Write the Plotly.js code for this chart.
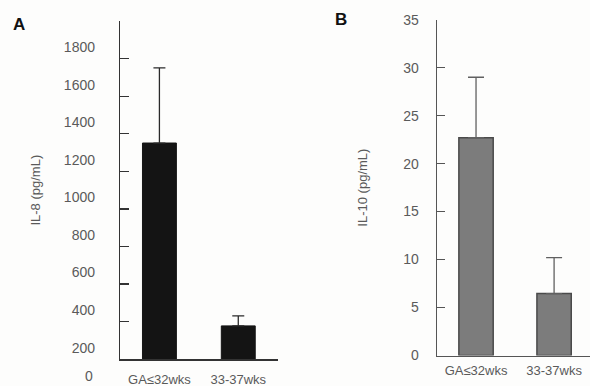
<!DOCTYPE html>
<html>
<head>
<meta charset="utf-8">
<script src="https://cdn.plot.ly/plotly-3.0.1.min.js"></script>
<style>html,body{margin:0;padding:0;background:#fff;}#chart{width:590px;height:386px;}</style>
</head>
<body>
<div id="chart"></div>
<script>
// Data
const categories = ["GA\u226432wks", "33-37wks"];
const il8Mean = [1290, 316];
const il8Err = [400, 53];
const il10Mean = [22.7, 6.45];
const il10Err = [6.3, 3.75];
const il8TickLabels = [200, 400, 600, 800, 1000, 1200, 1400, 1600, 1800];
const il10TickLabels = [0, 5, 10, 15, 20, 25, 30, 35];

const W = 590, H = 386;
const px = v => v / W;
const py = v => 1 - v / H;
const txt = '#5a5a5a';
const fam = 'Liberation Sans, Arial, sans-serif';
const fnt = {family: fam, size: 13, color: txt};
const yfnt = {family: fam, size: 14, color: txt};

const yA = {domain: [py(359.3), py(21)], range: [138, 1940]};

const traces = [
  {
    type: 'bar', x: categories, y: il8Mean, xaxis: 'x', yaxis: 'y',
    width: 0.43,
    marker: {color: '#141414', line: {color: '#141414', width: 1}},
    error_y: {type: 'data', symmetric: false, array: il8Err, arrayminus: [0, 0],
              color: '#2a2a2a', thickness: 1.3, width: 6},
    hoverinfo: 'skip', showlegend: false
  },
  {
    // carrier so that the tick-mark axis of panel A is drawn
    type: 'scatter', x: categories, y: [null, null], xaxis: 'x', yaxis: 'y2',
    mode: 'markers', marker: {opacity: 0}, hoverinfo: 'skip', showlegend: false
  },
  {
    type: 'bar', x: categories, y: il10Mean, xaxis: 'x3', yaxis: 'y3',
    width: 0.44,
    marker: {color: '#7c7c7c', line: {color: '#4a4a4a', width: 1.5}},
    error_y: {type: 'data', symmetric: false, array: il10Err, arrayminus: [0, 0],
              color: '#606060', thickness: 1.3, width: 8},
    hoverinfo: 'skip', showlegend: false
  }
];

const layout = {
  width: W, height: H,
  margin: {l: 0, r: 0, t: 0, b: 0},
  paper_bgcolor: '#fdfdfc', plot_bgcolor: 'rgba(0,0,0,0)',
  font: fnt,
  showlegend: false,
  xaxis: {
    domain: [px(120), px(277.7)], anchor: 'y', type: 'category',
    range: [-0.5, 1.5], showline: true, linecolor: '#333', linewidth: 1.5,
    ticks: '', showgrid: false, zeroline: false, tickfont: fnt,
    ticklabelstandoff: 8, fixedrange: true
  },
  // label axis for panel A (carries data)
  yaxis: {
    domain: yA.domain, anchor: 'x',
    range: yA.range, tickmode: 'array', tickvals: il8TickLabels,
    showline: false, ticks: '', showgrid: false, zeroline: false,
    tickfont: yfnt, ticklabelstandoff: 24,
    title: {text: 'IL-8 (pg/mL)', font: fnt, standoff: 20}
  },
  // tick-mark axis for panel A
  yaxis2: {
    overlaying: 'y', anchor: 'x', side: 'left',
    range: [0, 1800], tick0: 0, dtick: 200,
    ticks: 'inside', ticklen: 9, tickcolor: '#333', tickwidth: 1.3,
    showline: true, linecolor: '#333', linewidth: 1.5,
    showticklabels: false, showgrid: false, zeroline: false
  },
  xaxis3: {
    domain: [px(437), 1], anchor: 'y3', type: 'category',
    range: [-0.5, 1.46], showline: true, linecolor: '#555', linewidth: 1.4,
    ticks: '', showgrid: false, zeroline: false, tickfont: fnt,
    ticklabelstandoff: 2
  },
  yaxis3: {
    domain: [py(355.5), py(19.7)], anchor: 'x3',
    range: [0, 35], tickmode: 'array', tickvals: il10TickLabels,
    ticks: 'inside', ticklen: 8, tickcolor: '#555', tickwidth: 1.2,
    showline: true, linecolor: '#555', linewidth: 1.4,
    showgrid: false, zeroline: false, tickfont: yfnt, ticklabelstandoff: 14,
    title: {text: 'IL-10 (pg/mL)', font: fnt, standoff: 32}
  },
  annotations: [
    {text: '<b>A</b>', xref: 'paper', yref: 'paper', x: px(19), y: py(24),
     xanchor: 'center', yanchor: 'middle', showarrow: false,
     font: {family: fam, size: 17, color: '#111'}},
    {text: '<b>B</b>', xref: 'paper', yref: 'paper', x: px(341), y: py(20),
     xanchor: 'center', yanchor: 'middle', showarrow: false,
     font: {family: fam, size: 17, color: '#111'}},
    // the "0" label of panel A sits below the plotted area, at the bottom edge
    {text: '0', xref: 'paper', yref: 'paper', x: px(95), y: 0,
     xanchor: 'right', yanchor: 'bottom', showarrow: false, font: yfnt}
  ]
};

Plotly.newPlot('chart', traces, layout, {displayModeBar: false, staticPlot: true});
</script>
</body>
</html>
